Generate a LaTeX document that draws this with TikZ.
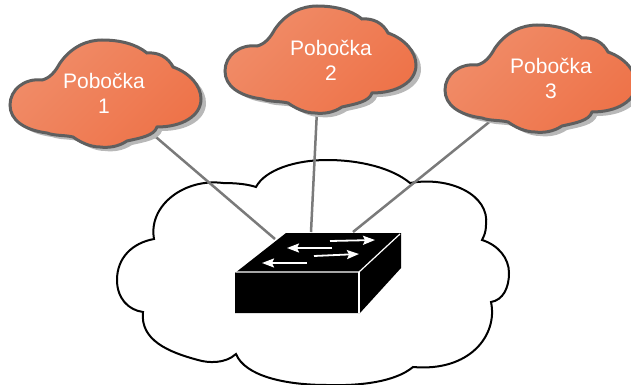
\documentclass[tikz,border=0pt]{standalone}
\usepackage{fontspec}
\setmainfont{Liberation Sans}
\usetikzlibrary{arrows.meta}
\definecolor{branchlight}{HTML}{F08C68}
\definecolor{branchdark}{HTML}{EE7349}
\definecolor{branchedge}{HTML}{5F5F5F}
\definecolor{branchshadow}{HTML}{B8B8B8}
\definecolor{linkgray}{HTML}{7A7A7A}
\tikzset{
  branchfill/.style={draw=branchedge, line width=3pt, top color=branchlight, bottom color=branchdark, shading angle=45},
  branchback/.style={fill=branchshadow},
  branchtext/.style={text=white, align=center, font=\fontsize{21}{25}\selectfont, inner sep=0pt},
  link/.style={draw=linkgray, line width=2.5pt},
  swface/.style={fill=black},
  swedge/.style={draw=white, line width=1.2pt},
  swarrow/.style={draw=white, line width=1.8pt, -{Stealth[length=12pt,width=9pt,inset=2pt]}}
}
\newcommand{\branchcloud}{(10,105) .. controls (10,90) and (24,78) .. (42,80)
  .. controls (50,78) and (55,72) .. (60,63)
  .. controls (72,46) and (88,40) .. (102,40)
  .. controls (120,40) and (136,44) .. (147,53)
  .. controls (158,52) and (168,57) .. (173,67)
  .. controls (190,73) and (201,86) .. (201,99)
  .. controls (201,116) and (182,127) .. (157,127)
  .. controls (154,136) and (140,138) .. (127,141)
  .. controls (118,147) and (108,148) .. (100,147)
  .. controls (90,147) and (80,142) .. (73,137)
  .. controls (65,135) and (55,136) .. (47,133)
  .. controls (24,130) and (10,120) .. (10,105) -- cycle}
\begin{document}
\begin{tikzpicture}[x=1pt,y=-1pt]
        \useasboundingbox (0,0) rectangle (631,385);

        % core network
        \draw [black, line width=2pt, fill=white] (117,280) .. controls (117,258) and (132,243) .. (154,239)
          .. controls (148,205) and (185,178) .. (223,183)
          .. controls (235,183) and (247,184) .. (256,187)
          .. controls (265,170) and (295,160) .. (327,160)
          .. controls (360,160) and (392,168) .. (410,183)
          .. controls (450,176) and (490,195) .. (486,225)
          .. controls (486,232) and (484,236) .. (482,240)
          .. controls (498,245) and (509,258) .. (509,273)
          .. controls (509,288) and (503,300) .. (491,302)
          .. controls (498,335) and (470,372) .. (413,367)
          .. controls (395,382) and (360,386) .. (327,385)
          .. controls (285,385) and (245,376) .. (236,354)
          .. controls (225,364) and (208,363) .. (198,360)
          .. controls (168,352) and (140,340) .. (143,312)
          .. controls (128,310) and (117,298) .. (117,280) -- cycle;

        \coordinate (edge1) at (150,132);
        \coordinate (edge2) at (317,110);
        \coordinate (edge3) at (493,119);
        \coordinate (port1) at (275,239);
        \coordinate (port2) at (311,232);
        \coordinate (port3) at (353,232);

        \draw [link] (edge1) -- (port1);
        \draw [link] (edge2) -- (port2);
        \draw [link] (edge3) -- (port3);

        % switch
        \fill [swface] (235,273) -- (286,233) -- (401,233) -- (401,268) -- (360,313) -- (235,313) -- cycle;
        \draw [swedge] (236,272) -- (359,272) -- (400,234);
        \draw [swedge] (359,272) -- (359,313);
        \coordinate (a1) at (330,241);
        \coordinate (a2) at (375,240);
        \coordinate (b1) at (332,248);
        \coordinate (b2) at (287,248);
        \coordinate (c1) at (314,256);
        \coordinate (c2) at (359,254);
        \coordinate (d1) at (307,263);
        \coordinate (d2) at (262,263);
        \draw [swarrow] (a1) -- (a2);
        \draw [swarrow] (b1) -- (b2);
        \draw [swarrow] (c1) -- (c2);
        \draw [swarrow] (d1) -- (d2);

        % branches
        \fill [branchback, shift={(5,4)}] \branchcloud;
        \shade [branchfill] \branchcloud;
        \fill [branchback, shift={(220,-30)}] \branchcloud;
        \shade [branchfill, shift={(215,-34)}] \branchcloud;
        \fill [branchback, shift={(440,-11)}] \branchcloud;
        \shade [branchfill, shift={(435,-15)}] \branchcloud;

        \node [branchtext] (branch1) at (104,93) {Pobočka\\1};
        \node [branchtext] (branch2) at (331,60) {Pobočka\\2};
        \node [branchtext] (branch3) at (551,78) {Pobočka\\3};

\end{tikzpicture}
\end{document}
